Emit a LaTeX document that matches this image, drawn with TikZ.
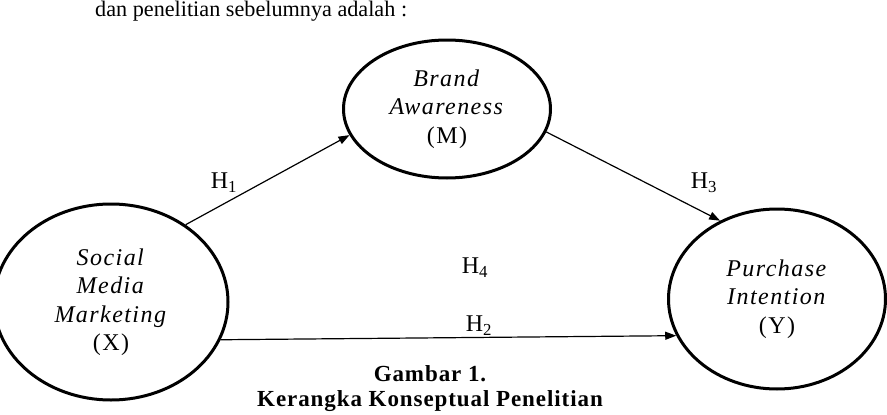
\documentclass[tikz,border=0pt]{standalone}
\usepackage{fontspec}
\setmainfont{Liberation Serif}
\newfontfamily\trk[LetterSpace=6]{Liberation Serif}
\newfontfamily\trkh[LetterSpace=2]{Liberation Serif}
\newfontfamily\trkb[LetterSpace=4]{Liberation Serif}
\usetikzlibrary{shapes.geometric,arrows.meta}
\begin{document}
\begin{tikzpicture}[x=1pt,y=-1pt,
  var/.style={ellipse,draw,line width=3pt,inner sep=0pt,align=center,
    font=\trk\fontsize{24}{28.5}\selectfont},
  conn/.style={line width=1.2pt,-{Triangle[length=11pt,width=8pt]}},
  lbl/.style={font=\trkh\fontsize{24}{24}\selectfont,inner sep=0pt}]
\useasboundingbox (0,0) rectangle (887,415);
\node[anchor=west,inner sep=0pt,font=\fontsize{22.2}{24}\selectfont] (intro) at (95,11) {dan penelitian sebelumnya adalah :};
\node[var,minimum width=207pt,minimum height=138pt] (M) at (447,109)
  {\raisebox{3pt}{\begin{tabular}{@{}c@{}}\textit{Brand}\\\textit{Awareness}\\(M)\end{tabular}}};
\node[var,minimum width=234pt,minimum height=196pt] (X) at (111,302)
  {\textit{Social}\\\textit{Media}\\\textit{Marketing}\\(X)};
\node[var,minimum width=217pt,minimum height=180pt] (Y) at (777,299)
  {\textit{Purchase}\\\textit{Intention}\\(Y)};
\draw[conn] (X.46) -- (M.195);
\draw[conn] (M.-13) -- (Y.126);
\draw[conn] (X.-19) -- (Y.200);
\node[lbl] (h1) at (224,183) {H\textsubscript{1}};
\node[lbl] (h3) at (704,183) {H\textsubscript{3}};
\node[lbl] (h4) at (475,268) {H\textsubscript{4}};
\node[lbl] (h2) at (479,326) {H\textsubscript{2}};
\node[inner sep=0pt,font=\trkb\fontsize{23}{25}\selectfont\bfseries,align=center] (cap) at (430,389)
  {Gambar 1.\\Kerangka Konseptual Penelitian};
\end{tikzpicture}
\end{document}
